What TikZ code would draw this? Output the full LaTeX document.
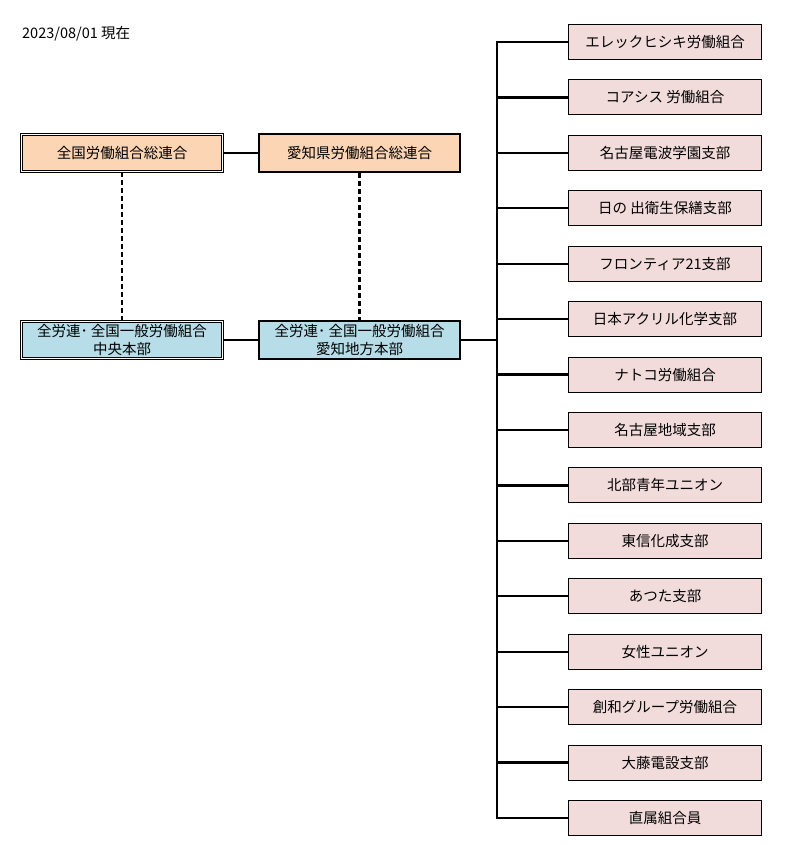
\documentclass[tikz,border=0pt]{standalone}
\usepackage{fontspec}
\setmainfont{Noto Sans CJK JP}
\definecolor{orangefill}{HTML}{FCD5B4}
\definecolor{bluefill}{HTML}{B7DEE8}
\definecolor{pinkfill}{HTML}{F2DCDB}

\begin{document}
\begin{tikzpicture}[
    x=1pt, y=-1pt,
    font=\fontsize{14.5}{18}\selectfont,
    doublebox/.style={rectangle, draw=black, line width=0.75pt, double=white, double distance=1.5pt,
                      minimum width=201pt, minimum height=37pt, inner sep=0, align=center},
    thickbox/.style={rectangle, draw=black, line width=2.2pt,
                     minimum width=201pt, minimum height=38pt, inner sep=0, align=center},
    branchbox/.style={rectangle, draw=black, line width=1pt, fill=pinkfill,
                      minimum width=193pt, minimum height=35pt, inner sep=0},
    link/.style={black, line width=2.2pt},
    dashlink/.style={black, line width=2.2pt, dash pattern=on 5pt off 3pt}
]

\useasboundingbox (0,0) rectangle (784,856);

% ============================================
% FECHA
% ============================================
\node[anchor=west, inner sep=0] (fecha) at (22,34) {2023/08/01 現在};

% ============================================
% ORGANIZACIONES SUPERIORES
% ============================================
\node[doublebox, fill=orangefill] (zenroren) at (122,153) {全国労働組合総連合};
\node[thickbox, fill=orangefill]  (aichiren) at (359.5,153) {愛知県労働組合総連合};

\node[doublebox, fill=bluefill] (honbu)  at (122,340) {全労連･ 全国一般労働組合\\中央本部};
\node[thickbox, fill=bluefill]  (chihou) at (359.5,340) {全労連･ 全国一般労働組合\\愛知地方本部};

% Conexiones
\draw[link] (zenroren) -- (aichiren);
\draw[link] (honbu) -- (chihou);
\draw[dashlink] (zenroren) -- (honbu);
\draw[dashlink] (aichiren) -- (chihou);

% ============================================
% SUBORGANIZACIONES (columna derecha)
% ============================================
\def\rowgap{55.43}
\def\firstrow{42}

\foreach \i/\texto in {1/エレックヒシキ労働組合, 2/コアシス 労働組合, 3/名古屋電波学園支部,
                       4/日の 出衛生保繕支部, 5/フロンティア21支部, 6/日本アクリル化学支部,
                       7/ナトコ労働組合, 8/名古屋地域支部, 9/北部青年ユニオン,
                       10/東信化成支部, 11/あつた支部, 12/女性ユニオン,
                       13/創和グループ労働組合, 14/大藤電設支部, 15/直属組合員}
    \node[branchbox] (b\i) at (665,\firstrow+\rowgap*\i-\rowgap) {\texto};

% Bus vertical
\coordinate (bus) at (497,340);
\draw[link] (chihou) -- (bus);
\draw[link] (b1.west) -| (bus) |- (b15.west);
\foreach \i in {2,...,14}
    \draw[link] (b\i.west) -- (b\i.west -| bus);

\end{tikzpicture}
\end{document}
